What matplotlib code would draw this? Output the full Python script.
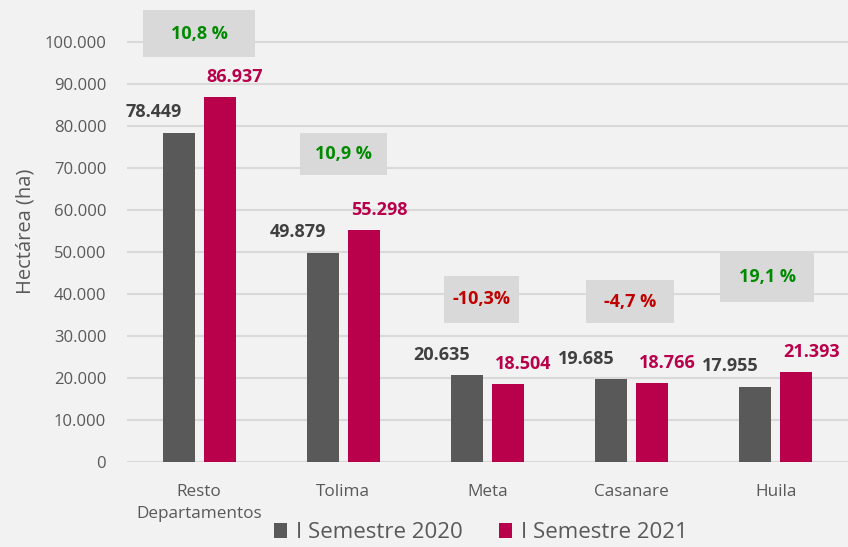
import numpy as np
import matplotlib.pyplot as plt
from matplotlib.patches import Rectangle

plt.rcParams['font.family'] = ['Open Sans', 'DejaVu Sans']

categorias = ['Resto\nDepartamentos', 'Tolima', 'Meta', 'Casanare', 'Huila']
sem_2020 = [78449, 49879, 20635, 19685, 17955]
sem_2021 = [86937, 55298, 18504, 18766, 21393]
etiquetas_2020 = ['78.449', '49.879', '20.635', '19.685', '17.955']
etiquetas_2021 = ['86.937', '55.298', '18.504', '18.766', '21.393']
variacion = ['10,8 %', '10,9 %', '-10,3%', '-4,7 %', '19,1 %']
# caja de variacion: (centro x, ancho, y inferior, y superior) en datos
cajas = [(0.0, 0.78, 96400, 107600),
         (0.0, 0.60, 68300, 78300),
         (-0.04, 0.52, 33100, 44300),
         (-0.01, 0.61, 33100, 43300),
         (-0.06, 0.65, 38100, 49800)]

bg = '#f2f2f2'
gris = '#595959'
rojo = '#b8004b'

fig = plt.figure(figsize=(8.48, 5.47), dpi=100, facecolor=bg)
ax = fig.add_axes([0.1498, 0.1554, 0.8502, 0.8446])
ax.set_facecolor(bg)

x = np.arange(len(categorias))
w = 0.222
off = 0.142
ax.bar(x - off, sem_2020, w, color=gris, label='I Semestre 2020', zorder=3)
ax.bar(x + off, sem_2021, w, color=rojo, label='I Semestre 2021', zorder=3)

for i in range(len(x)):
    ax.annotate(etiquetas_2020[i], (x[i] - off, sem_2020[i]), xytext=(-18, 8),
                textcoords='offset points', ha='center', va='bottom',
                fontsize=13, fontweight='bold', color='#404040', zorder=4)
    ax.annotate(etiquetas_2021[i], (x[i] + off, sem_2021[i]), xytext=(11, 8),
                textcoords='offset points', ha='center', va='bottom',
                fontsize=13, fontweight='bold', color=rojo, zorder=4,
                annotation_clip=False)
    cx, cw, y0, y1 = cajas[i]
    ax.add_patch(Rectangle((i + cx - cw / 2, y0), cw, y1 - y0,
                           facecolor='#d9d9d9', edgecolor='none', zorder=4,
                           clip_on=False))
    col = '#c00000' if variacion[i].startswith('-') else '#008a00'
    ax.text(i + cx, (y0 + y1) / 2, variacion[i], ha='center', va='center',
            fontsize=13, fontweight='bold', color=col, zorder=5)

ax.set_xlim(-0.5, 4.5)
ax.set_ylim(0, 110000)
yt = np.arange(0, 100001, 10000)
ax.set_yticks(yt)
ax.set_yticklabels(['0' if v == 0 else f'{v:,}'.replace(',', '.') for v in yt])
ax.set_xticks(x)
ax.set_xticklabels(categorias, fontsize=12.3, color=gris, linespacing=1.45)
ax.tick_params(axis='y', labelsize=12, labelcolor=gris, length=0, pad=15)
ax.tick_params(axis='x', length=0, pad=16)
ax.grid(axis='y', color='#d9d9d9', linewidth=1.5, zorder=0)
for s in ax.spines.values():
    s.set_visible(False)
ax.set_ylabel('Hectárea (ha)', fontsize=14.5, color=gris, labelpad=6)

ax.legend(loc='center', bbox_to_anchor=(0.567, 0.026), bbox_transform=fig.transFigure,
          ncol=2, frameon=False, fontsize=16, labelcolor=gris, handlelength=0.6,
          handleheight=0.6, handletextpad=0.4, columnspacing=1.6,
          borderpad=0.1)

fig.savefig('out.png', dpi=100, facecolor=bg)
